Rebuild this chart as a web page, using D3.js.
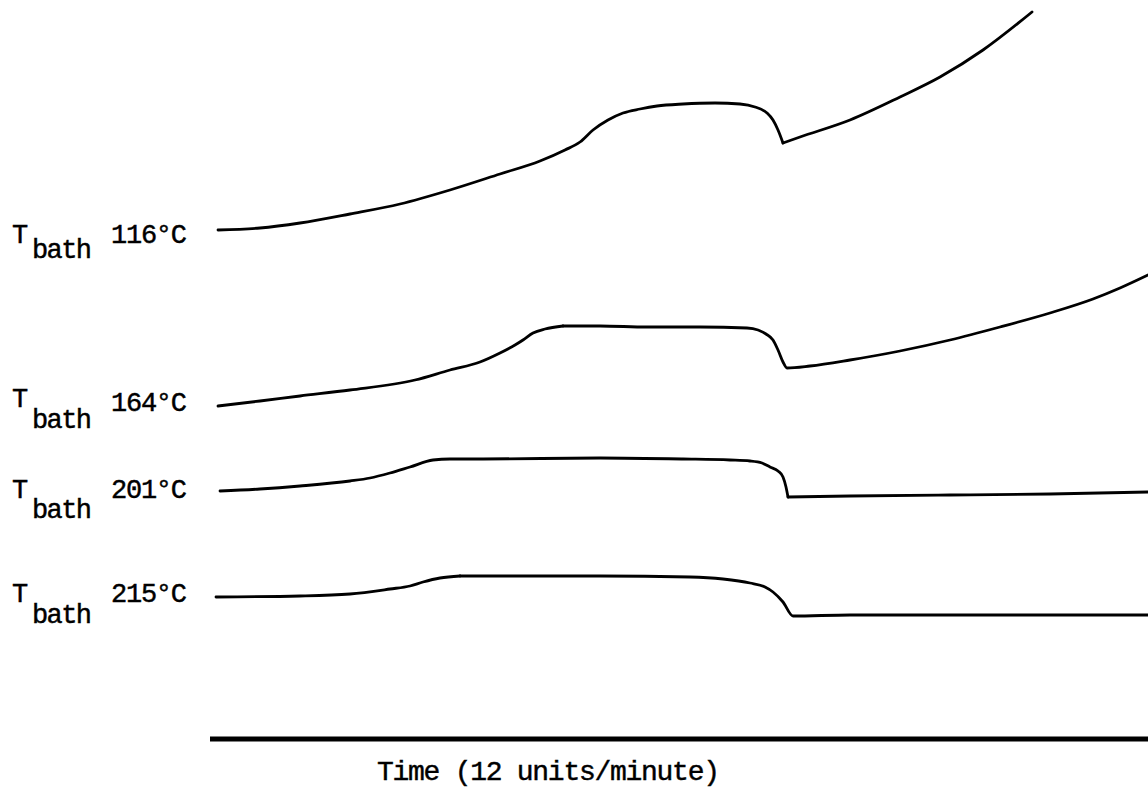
<!DOCTYPE html>
<html>
<head>
<meta charset="utf-8">
<script src="https://cdn.jsdelivr.net/npm/d3@7"></script>
<style>
  html, body { margin: 0; padding: 0; background: #fff; }
  svg { display: block; }
  text { font-family: "Liberation Mono", "DejaVu Sans Mono", monospace; fill: #000; stroke: #000; stroke-width: 0.45px; }
</style>
</head>
<body>
<svg id="chart" width="1148" height="788"></svg>
<script>
// Time (arbitrary units) and signal (arbitrary units)
const t116 = [0.8,5.0,9.0,14.0,19.0,24.0,29.0,33.0,35.5,37.0,38.3,39.8,41.3,43.0,44.7,47.3,50.5,53.0,54.5,55.7,56.3,56.8,57.3,59.0,64.0,69.0,73.0,77.3,82.2];
const v116 = [51.0,51.2,51.7,52.6,53.6,55.0,56.6,57.9,59.0,59.8,61.0,62.0,62.7,63.1,63.4,63.6,63.7,63.6,63.3,62.7,62.0,61.0,59.7,60.3,62.0,64.3,66.3,69.0,72.8];

const t164 = [0.8,5.0,9.0,14.0,20.5,24.0,27.0,29.0,30.5,31.3,32.3,33.5,35.3,39.0,43.7,49.0,53.7,54.8,55.6,56.3,56.8,57.3,57.7,60.0,64.0,69.0,74.0,79.0,84.0,88.3,91.0,93.8];
const v164 = [33.4,33.9,34.4,35.0,36.0,37.0,37.8,38.7,39.5,40.0,40.7,41.1,41.4,41.4,41.3,41.3,41.2,41.0,40.6,40.0,39.0,37.8,37.2,37.4,38.0,38.9,40.0,41.3,42.7,44.1,45.2,46.5];

const t201 = [1.0,5.0,9.0,14.0,16.0,18.0,20.0,22.3,24.0,27.3,39.0,47.3,52.0,54.0,55.2,56.0,56.8,57.3,57.6,57.8,64.0,74.0,84.0,93.8];
const v201 = [24.9,25.1,25.4,25.9,26.2,26.7,27.3,28.0,28.1,28.1,28.2,28.1,28.0,27.9,27.7,27.3,26.9,26.3,25.3,24.3,24.4,24.5,24.6,24.8];

const t215 = [0.6,9.0,14.0,18.0,20.0,21.3,23.0,25.0,28.0,39.0,48.0,51.3,54.0,55.5,56.3,57.3,58.3,64.0,93.8];
const v215 = [14.3,14.4,14.6,15.1,15.4,15.8,16.2,16.4,16.4,16.4,16.3,16.1,15.7,15.3,14.8,13.8,12.4,12.5,12.5];

const bathTemps = ["116", "164", "201", "215"];
const xLabel = "Time (12 units/minute)";
const timeDomain = [0, 93.8];
const signalDomain = [0, 74];

const svg = d3.select("#chart");
const x = d3.scaleLinear().domain(timeDomain).range([210, 1148]);
const y = d3.scaleLinear().domain(signalDomain).range([740, 0]);

const series = [
  {t: t116, v: v116},
  {t: t164, v: v164},
  {t: t201, v: v201},
  {t: t215, v: v215}
];

const line = d3.line()
  .x(d => x(d[0]))
  .y(d => y(d[1]))
  .curve(d3.curveMonotoneX);

series.forEach(s => {
  const pts = d3.zip(s.t, s.v);
  // find the plateau maximum, then the bottom of the drop after it (sharp corner there)
  const iMax = d3.maxIndex(pts.filter(p => p[0] < 57), p => p[1]);
  let iMin = iMax;
  while (iMin + 1 < pts.length && pts[iMin + 1][1] < pts[iMin][1]) iMin++;
  [pts.slice(0, iMin + 1), pts.slice(iMin)].forEach(part => {
    svg.append("path")
      .datum(part)
      .attr("d", line)
      .attr("fill", "none")
      .attr("stroke", "#000")
      .attr("stroke-width", 2.8)
      .attr("stroke-linejoin", "round")
      .attr("stroke-linecap", "round");
  });
});

// time axis baseline
svg.append("line")
  .attr("x1", x(timeDomain[0]))
  .attr("x2", x(timeDomain[1]))
  .attr("y1", y(0.1))
  .attr("y2", y(0.1))
  .attr("stroke", "#000")
  .attr("stroke-width", 5);

svg.append("text")
  .attr("x", 377)
  .attr("y", 780)
  .attr("font-size", 28)
  .attr("textLength", 343)
  .attr("lengthAdjust", "spacing")
  .text(xLabel);

// labels: T_bath NNN°C
const labelPos = [
  {tY: 243, bY: 258, nY: 243},
  {tY: 407, bY: 428, nY: 411},
  {tY: 498, bY: 518, nY: 498},
  {tY: 602, bY: 623, nY: 602}
];
bathTemps.forEach((temp, i) => {
  const p = labelPos[i];
  const g = svg.append("g");
  g.append("text").attr("x", 12).attr("y", p.tY).attr("font-size", 27).text("T");
  g.append("text").attr("x", 32).attr("y", p.bY).attr("font-size", 27)
    .attr("textLength", 60).attr("lengthAdjust", "spacing").text("bath");
  g.append("text").attr("x", 111).attr("y", p.nY).attr("font-size", 27)
    .attr("textLength", 76).attr("lengthAdjust", "spacing").text(temp + "\u00B0C");
});
</script>
</body>
</html>
